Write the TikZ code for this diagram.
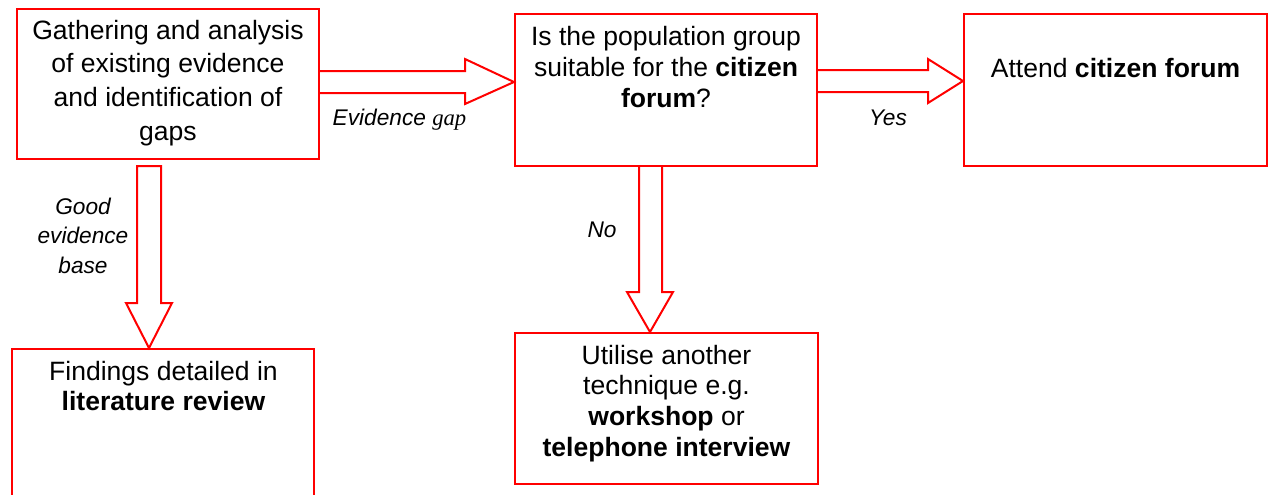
\documentclass[tikz,border=0pt]{standalone}
\usepackage{fontspec}
\setmainfont{Liberation Sans}
\newfontfamily\timesfont{Liberation Serif}
\usetikzlibrary{calc}
\begin{document}
\begin{tikzpicture}[x=0.75pt,y=-0.75pt,
  box/.style={draw=red, line width=1.5pt, inner sep=0pt, fill=none},
  blockarrow/.style={draw=red, line width=1.5pt, line join=miter},
  maintxt/.style={inner sep=0pt, align=center, anchor=base, font=\fontsize{19.9}{23}\selectfont},
  firsttxt/.style={maintxt, font=\fontsize{19.9}{25.2}\selectfont},
  lbl/.style={inner sep=0pt, align=center, anchor=base, font=\fontsize{17}{21.8}\selectfont\itshape}]
\useasboundingbox (0,0) rectangle (1271,494);
\clip (0,0) rectangle (1271,494);
% boxes
\node[box, minimum width=226.5pt, minimum height=112.5pt] (b1) at (168,84) {};
\node[box, minimum width=226.5pt, minimum height=114pt] (b2) at (666,90) {};
\node[box, minimum width=227.25pt, minimum height=114pt] (b3) at (1115.5,90) {};
\node[box, minimum width=226.5pt, minimum height=120.75pt] (b4) at (163,429.5) {};
\node[box, minimum width=227.25pt, minimum height=113.25pt] (b5) at (666.5,408.5) {};
% texts (anchor = baseline of last line)
\node[firsttxt] (t1) at (168,140) {Gathering and analysis\\of existing evidence\\and identification of\\gaps};
\node[maintxt] (t2) at (666,107) {Is the population group\\suitable for the \textbf{citizen}\\\textbf{forum}?};
\node[maintxt] (t3) at (1115.5,77) {Attend \textbf{citizen forum}};
\node[maintxt, font=\fontsize{19.9}{21.8}\selectfont] (t4) at (163.5,410) {Findings detailed in\\\textbf{literature review}};
\node[maintxt] (t5) at (666.5,456) {Utilise another\\technique e.g.\\\textbf{workshop} or\\\textbf{telephone interview}};
% block arrows
\draw[blockarrow] (b1.east |- 0,71) -- (465,71) -- (465,59) -- (b2.west |- 0,82) -- (465,104) -- (465,93) -- (b1.east |- 0,93);
\draw[blockarrow] (b2.east |- 0,70) -- (928,70) -- (928,59) -- (b3.west |- 0,81) -- (928,103) -- (928,92) -- (b2.east |- 0,92);
\draw[blockarrow] (137,166) -- (161,166) -- (161,303) -- (172,303) -- (149,0 |- b4.north) -- (126,303) -- (137,303) -- cycle;
\draw[blockarrow] (639,0 |- b2.south) -- (639,292) -- (627,292) -- (650,0 |- b5.north) -- (673,292) -- (662,292) -- (662,0 |- b2.south);
% labels
\node[lbl] (l1) at (399.5,125) {Evidence {\timesfont\itshape gap}};
\node[lbl] (l2) at (888,125) {Yes};
\node[lbl] (l3) at (602,237) {No};
\node[lbl] (l4) at (83,273) {Good\\evidence\\base};
\end{tikzpicture}
\end{document}
